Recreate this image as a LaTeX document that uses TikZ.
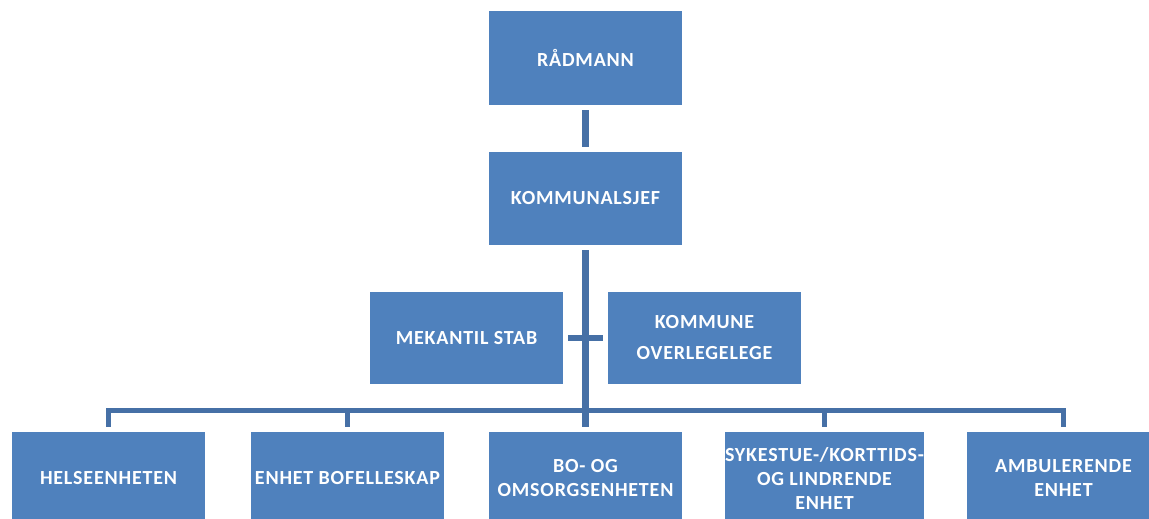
\documentclass[tikz,border=0pt]{standalone}
\usepackage{fontspec}
\setmainfont{Carlito}[LetterSpace=4]
\definecolor{boxblue}{HTML}{4F81BD}
\definecolor{lineblue}{HTML}{4670A6}
\begin{document}
\begin{tikzpicture}[x=1pt,y=-1pt,
  orgbox/.style={rectangle, fill=boxblue, inner sep=0pt, minimum width=193pt, align=center,
    text=white, font=\bfseries\fontsize{20}{24}\selectfont},
  conn/.style={draw=lineblue, line width=6pt}]
\clip (0,0) rectangle (1149,519);
\fill[white] (0,0) rectangle (1149,519);
\node[orgbox, minimum height=94pt] (rad) at (585.5,58) {RÅDMANN};
\node[orgbox, minimum height=93pt] (kom) at (585.5,198.5) {KOMMUNALSJEF};
\node[orgbox, minimum height=92pt, font=\bfseries\fontsize{20}{31}\selectfont] (mek) at (466.5,338) {MEKANTIL STAB};
\node[orgbox, minimum height=92pt, font=\bfseries\fontsize{20}{31}\selectfont] (ovl) at (704.5,338) {KOMMUNE\\OVERLEGELEGE};
\node[orgbox, minimum height=92pt] (b1) at (108.5,478) {HELSEENHETEN};
\node[orgbox, minimum height=92pt] (b2) at (347.5,478) {ENHET BOFELLESKAP};
\node[orgbox, minimum height=92pt] (b3) at (585.5,478) {BO- OG\\OMSORGSENHETEN};
\node[orgbox, minimum height=92pt] (b4) at (824.5,478) {SYKESTUE-/KORTTIDS-\\OG LINDRENDE\\ENHET};
\node[orgbox, minimum height=92pt] (b5) at (1063.5,478) {AMBULERENDE\\ENHET};
\coordinate (bus) at (585.5,410);
\draw[conn, line width=7pt, shorten <=5pt, shorten >=5pt] (rad.south) -- (kom.north);
\draw[conn, line width=7pt, shorten <=5pt, shorten >=5pt] (kom.south) -- (b3.north);
\draw[conn, shorten <=5pt, shorten >=5pt] (mek.east) -- (ovl.west);
\draw[conn, line cap=rect, line width=5pt] (b1.north |- bus) -- (b5.north |- bus);
\foreach \b in {b1,b2,b4,b5}{
  \draw[conn, line width=5pt, shorten >=5pt] (\b.north |- bus) -- (\b.north);
}
\end{tikzpicture}
\end{document}
